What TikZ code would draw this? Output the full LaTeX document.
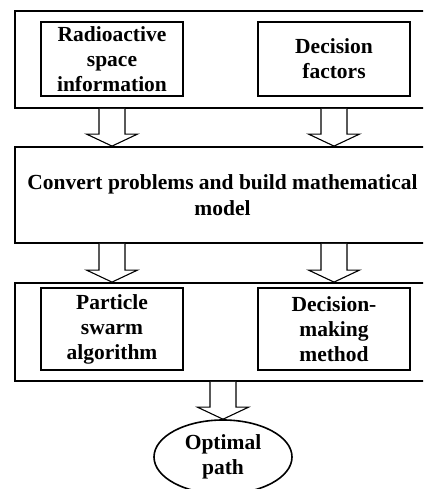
\documentclass[tikz,border=0pt]{standalone}
\usepackage{fontspec}
\setmainfont{Liberation Serif}
\usetikzlibrary{calc,shapes.geometric}
\newcommand{\blockarr}[2]{%
  \draw[barrow] let \p1=(#1), \p2=(#2) in
    (\x1-13,\y1) -- (\x1-13,\y2+12) -- (\x1-25.5,\y2+12) -- (\x1,\y2) --
    (\x1+25.5,\y2+12) -- (\x1+13,\y2+12) -- (\x1+13,\y1);}
\begin{document}
\begin{tikzpicture}[x=1pt,y=1pt,
  txt/.style={font=\fontsize{21.5}{25}\selectfont\bfseries, align=center, inner sep=0pt},
  outer/.style={draw, line width=1.8pt, inner sep=0pt},
  inner/.style={draw, line width=1.6pt, inner sep=0pt, txt},
  barrow/.style={draw, line width=1.1pt, fill=white, line join=miter}
]
\useasboundingbox (0,0) rectangle (423,489);
\clip (0,0) rectangle (423,489);
% top group
\node[outer, minimum width=415pt, minimum height=97pt] (topbox) at (222.5,429.5) {};
\node[inner, minimum width=142pt, minimum height=74pt] (ra) at (112,430) {Radioactive\\space\\information};
\node[inner, minimum width=152pt, minimum height=74pt] (df) at (334,430) {Decision\\factors};
% middle
\node[outer, txt, minimum width=415pt, minimum height=96pt, font=\fontsize{21.5}{26}\selectfont\bfseries] (mid) at (222.5,294) {Convert problems and build mathematical\\model};
% bottom group
\node[outer, minimum width=415pt, minimum height=98pt] (botbox) at (222.5,157) {};
\node[inner, minimum width=142pt, minimum height=82pt] (ps) at (112,160) {Particle\\swarm\\algorithm};
\node[inner, minimum width=152pt, minimum height=82pt] (dm) at (334,160) {Decision-\\making\\method};
% ellipse
\node[draw, ellipse, line width=1.6pt, minimum width=138pt, minimum height=74pt, txt] (op) at (223,32) {Optimal\\path};
% block arrows
\blockarr{ra.center |- topbox.south}{ra.center |- mid.north}
\blockarr{df.center |- topbox.south}{df.center |- mid.north}
\blockarr{ps.center |- mid.south}{ps.center |- botbox.north}
\blockarr{dm.center |- mid.south}{dm.center |- botbox.north}
\blockarr{op.center |- botbox.south}{op.north}
\end{tikzpicture}
\end{document}
